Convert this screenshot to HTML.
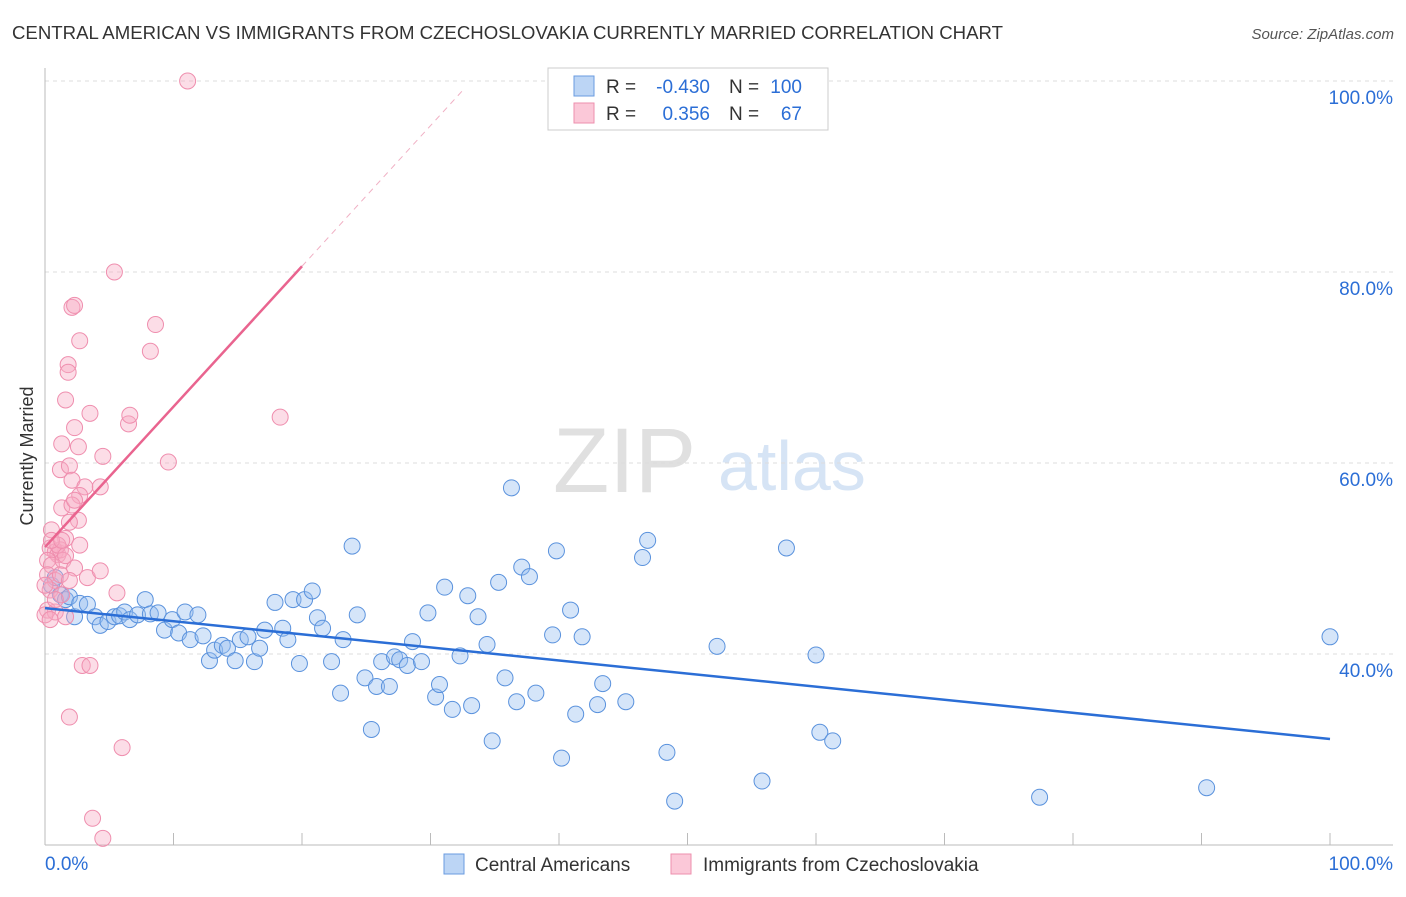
<!DOCTYPE html>
<html><head><meta charset="utf-8"><style>
body{margin:0;background:#fff;font-family:"Liberation Sans",sans-serif}
svg text{font-family:"Liberation Sans",sans-serif}
</style></head><body>
<svg id="c" width="1406" height="892">
<text x="12" y="39" font-size="18" fill="#333" textLength="991" lengthAdjust="spacingAndGlyphs">CENTRAL AMERICAN VS IMMIGRANTS FROM CZECHOSLOVAKIA CURRENTLY MARRIED CORRELATION CHART</text>
<text x="1394" y="39" font-size="15" fill="#555" font-style="italic" text-anchor="end">Source: ZipAtlas.com</text>
<text x="33" y="456" font-size="18" fill="#333" text-anchor="middle" transform="rotate(-90 33 456)">Currently Married</text>
<g><text x="553" y="492" font-size="92" fill="#e0e0e0" font-family="Liberation Serif,serif">ZIP</text><text x="718" y="490" font-size="70" fill="#d6e4f5">atlas</text></g>
<g id="grid"></g><g id="pts"></g><g id="lines"></g>
<g>
<rect x="548" y="68" width="280" height="62" fill="#fff" stroke="#ccc"/>
<rect x="574" y="76" width="20" height="20" fill="#bcd5f5" stroke="#6a9be0"/>
<rect x="574" y="103" width="20" height="20" fill="#fbc8d8" stroke="#ee8fae"/>
<text x="606" y="93" font-size="19" fill="#333">R =</text>
<text x="710" y="93" font-size="19" fill="#2b6ed6" text-anchor="end">-0.430</text>
<text x="729" y="93" font-size="19" fill="#333">N =</text>
<text x="802" y="93" font-size="19" fill="#2b6ed6" text-anchor="end">100</text>
<text x="606" y="120" font-size="19" fill="#333">R =</text>
<text x="710" y="120" font-size="19" fill="#2b6ed6" text-anchor="end">0.356</text>
<text x="729" y="120" font-size="19" fill="#333">N =</text>
<text x="802" y="120" font-size="19" fill="#2b6ed6" text-anchor="end">67</text>
</g>
<g>
<rect x="444" y="854" width="20" height="20" fill="#bcd5f5" stroke="#6a9be0"/>
<text x="475" y="871" font-size="19" fill="#333">Central Americans</text>
<rect x="671" y="854" width="20" height="20" fill="#fbc8d8" stroke="#ee8fae"/>
<text x="703" y="871" font-size="19" fill="#333">Immigrants from Czechoslovakia</text>
</g>
</svg>
<script>
const blueX=[0.5,0.8,1.2,1.6,1.9,2.3,2.7,3.3,3.9,4.3,4.9,5.4,5.8,6.2,6.6,7.2,7.8,8.2,8.8,9.3,9.9,10.4,10.9,11.3,11.9,12.3,12.8,13.2,13.8,14.2,14.8,15.2,15.8,16.3,16.7,17.1,17.9,18.5,18.9,19.3,19.8,20.2,20.8,21.2,21.6,22.3,23.0,23.2,23.9,24.3,24.9,25.4,25.8,26.2,26.8,27.2,27.6,28.2,28.6,29.3,29.8,30.4,30.7,31.1,31.7,32.3,32.9,33.2,33.7,34.4,34.8,35.3,35.8,36.3,36.7,37.1,37.7,38.2,39.5,39.8,40.2,40.9,41.3,41.8,43.0,43.4,45.2,46.5,46.9,48.4,49.0,52.3,55.8,57.7,60.0,60.3,61.3,77.4,90.4,100];
const blueY=[47.2,48.0,46.2,45.7,46.0,43.9,45.3,45.2,43.9,43.0,43.4,43.9,44.0,44.4,43.6,44.1,45.7,44.2,44.3,42.5,43.6,42.2,44.4,41.5,44.1,41.9,39.3,40.4,40.9,40.6,39.3,41.5,41.8,39.2,40.6,42.5,45.4,42.7,41.5,45.7,39.0,45.7,46.6,43.8,42.7,39.2,35.9,41.5,51.3,44.1,37.5,32.1,36.6,39.2,36.6,39.7,39.4,38.8,41.3,39.2,44.3,35.5,36.8,47.0,34.2,39.8,46.1,34.6,43.9,41.0,30.9,47.5,37.5,57.4,35.0,49.1,48.1,35.9,42.0,50.8,29.1,44.6,33.7,41.8,34.7,36.9,35.0,50.1,51.9,29.7,24.6,40.8,26.7,51.1,39.9,31.8,30.9,25.0,26.0,41.8];
const pinkX=[11.1,5.4,2.1,2.3,8.6,2.7,8.2,1.8,1.8,1.6,3.5,18.3,6.5,2.3,6.6,1.3,2.6,9.6,4.5,1.2,1.9,2.1,3.1,4.3,2.7,1.3,2.1,2.6,1.9,0.5,1.6,0.4,0.8,1.0,0.2,0.5,1.2,1.4,2.3,3.3,4.3,0.2,0.8,0.4,1.3,0.2,0.8,1.6,5.6,2.9,3.5,1.9,6.0,3.7,4.5,0.0,1.0,0.5,1.6,0,1.2,2.3,0.8,0.4,1.9,1.3,2.7];
const pinkY=[100,80.0,76.3,76.5,74.5,72.8,71.7,70.3,69.5,66.6,65.2,64.8,64.1,63.7,65.0,62.0,61.7,60.1,60.7,59.3,59.7,58.2,57.5,57.5,56.6,55.3,55.6,54.0,53.8,53.0,52.1,51.1,50.7,50.4,49.8,49.3,50.9,49.8,49.0,48.0,48.7,48.3,47.7,46.7,46.2,44.6,44.4,43.9,46.4,38.8,38.8,33.4,30.2,22.8,20.7,44.1,51.4,51.9,50.3,47.2,48.3,56.1,45.7,43.6,47.7,51.9,51.4];
const blueTrend=[44.8,31.1];
const pinkTrend=[51.2,80.6,99.3];
const pinkTrendX=[0,20,32.7];
const yTicks=[40,60,80,100];
const NS='http://www.w3.org/2000/svg';
const X=v=>45+v*12.85, Y=v=>654-(v-40)*9.55;
function mk(t,a,p){const e=document.createElementNS(NS,t);for(const k in a)e.setAttribute(k,a[k]);p.appendChild(e);return e;}
const g=document.getElementById('grid');
yTicks.forEach(t=>{const l=mk('line',{x1:45,x2:1393,y1:Y(t),y2:Y(t),stroke:'#ddd','stroke-dasharray':'4,4'},g);


const tx=mk('text',{x:1393,y:Y(t)+23,'font-size':19,fill:'#2b6ed6','text-anchor':'end'},g);tx.textContent=t.toFixed(1)+'%';

});
mk('line',{x1:45,x2:45,y1:68,y2:845,stroke:'#bbb'},g);
mk('line',{x1:45,x2:1393,y1:845,y2:845,stroke:'#bbb'},g);
for(let i=0;i<=10;i++)mk('line',{x1:X(i*10),x2:X(i*10),y1:833,y2:845,stroke:'#bbb'},g);
const a=mk('text',{x:45,y:870,'font-size':19,fill:'#2b6ed6'},g);a.textContent='0.0%';


const b=mk('text',{x:1393,y:870,'font-size':19,fill:'#2b6ed6','text-anchor':'end'},g);b.textContent='100.0%';


const p=document.getElementById('pts');
blueX.forEach((x,i)=>{const c=mk('circle',{cx:X(x),cy:Y(blueY[i]),r:8,fill:'rgba(150,190,240,0.4)',stroke:'#5a92dd','stroke-width':1},p);

});
pinkX.forEach((x,i)=>{const c=mk('circle',{cx:X(x),cy:Y(pinkY[i]),r:8,fill:'rgba(248,170,195,0.4)',stroke:'#ef8eae','stroke-width':1},p);

});
const L=document.getElementById('lines');
const bl=mk('line',{x1:X(0),y1:Y(blueTrend[0]),x2:X(100),y2:Y(blueTrend[1]),stroke:'#2b6ed6','stroke-width':2.5},L);


const pl=mk('line',{x1:X(pinkTrendX[0]),y1:Y(pinkTrend[0]),x2:X(pinkTrendX[1]),y2:Y(pinkTrend[1]),stroke:'#e9648f','stroke-width':2.5},L);


const pd=mk('line',{x1:X(pinkTrendX[1]),y1:Y(pinkTrend[1]),x2:X(pinkTrendX[2]),y2:Y(pinkTrend[2]),stroke:'#f0b0c4','stroke-width':1,'stroke-dasharray':'6,5'},L);


</script>
</body></html>
